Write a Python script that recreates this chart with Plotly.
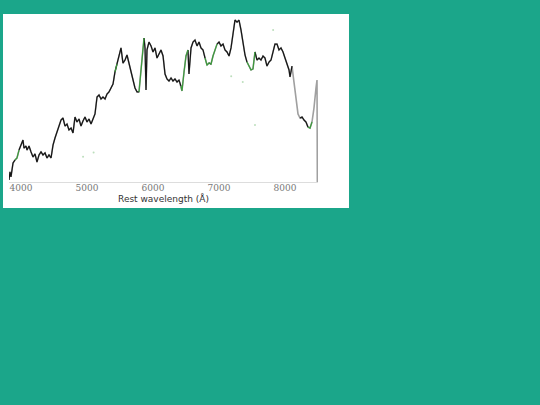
import plotly.graph_objects as go

# Rest wavelength (Angstrom) and normalised flux
wavelength = [3818, 3833, 3848, 3864, 3879, 3909, 3939, 3970, 4000, 4030,
              4045, 4076, 4091, 4121, 4152, 4182, 4212, 4242, 4273, 4303,
              4333, 4364, 4394, 4424, 4455, 4485, 4515, 4545, 4576, 4606,
              4636, 4667, 4697, 4727, 4758, 4788, 4818, 4848, 4879, 4909,
              4939, 4970, 5000, 5030, 5061, 5091, 5121, 5152, 5182, 5212,
              5242, 5273, 5303, 5333, 5364, 5394, 5424, 5455, 5485, 5515,
              5545, 5576, 5606, 5636, 5667, 5697, 5727, 5758, 5788, 5818,
              5848, 5864, 5879, 5894, 5909, 5939, 5970, 6000, 6030, 6061,
              6091, 6121, 6152, 6182, 6212, 6242, 6273, 6303, 6333, 6364,
              6394, 6424, 6439, 6470, 6500, 6530, 6545, 6576, 6606, 6636,
              6667, 6697, 6727, 6758, 6788, 6818, 6848, 6879, 6909, 6939,
              6970, 7000, 7030, 7061, 7091, 7121, 7152, 7182, 7212, 7242,
              7273, 7303, 7333, 7364, 7394, 7424, 7455, 7485, 7515, 7545,
              7576, 7606, 7636, 7667, 7697, 7727, 7758, 7788, 7818, 7848,
              7879, 7909, 7939, 7970, 8000, 8030, 8061, 8076, 8106, 8136,
              8167, 8197, 8227, 8258, 8288, 8318, 8348, 8379, 8409, 8439,
              8470, 8485, 8490]
flux = [0.012, 0.060, 0.030, 0.083, 0.113, 0.131, 0.143, 0.190, 0.220, 0.250,
        0.202, 0.214, 0.190, 0.214, 0.179, 0.149, 0.167, 0.119, 0.161, 0.179,
        0.161, 0.173, 0.143, 0.161, 0.143, 0.220, 0.262, 0.298, 0.321, 0.369,
        0.381, 0.333, 0.345, 0.310, 0.321, 0.292, 0.387, 0.357, 0.375, 0.333,
        0.363, 0.387, 0.357, 0.375, 0.345, 0.381, 0.405, 0.506, 0.518, 0.494,
        0.506, 0.494, 0.524, 0.536, 0.560, 0.583, 0.655, 0.702, 0.756, 0.798,
        0.708, 0.726, 0.756, 0.708, 0.655, 0.607, 0.560, 0.536, 0.536, 0.667,
        0.810, 0.857, 0.798, 0.548, 0.786, 0.833, 0.810, 0.774, 0.798, 0.738,
        0.762, 0.786, 0.750, 0.643, 0.613, 0.601, 0.619, 0.601, 0.613, 0.595,
        0.607, 0.571, 0.542, 0.655, 0.750, 0.786, 0.643, 0.798, 0.833, 0.845,
        0.810, 0.833, 0.798, 0.786, 0.738, 0.696, 0.708, 0.702, 0.750, 0.780,
        0.821, 0.833, 0.810, 0.821, 0.786, 0.774, 0.750, 0.798, 0.881, 0.964,
        0.952, 0.964, 0.905, 0.833, 0.756, 0.714, 0.685, 0.667, 0.673, 0.774,
        0.726, 0.738, 0.726, 0.750, 0.738, 0.690, 0.714, 0.726, 0.774, 0.821,
        0.821, 0.786, 0.798, 0.774, 0.738, 0.702, 0.667, 0.625, 0.690, 0.595,
        0.488, 0.405, 0.381, 0.387, 0.369, 0.357, 0.327, 0.321, 0.357, 0.440,
        0.560, 0.607, 0.000]
# k = observed (black), g = flagged (green), n = model only (grey)
point_class = list(
    "kkkkkggkkk" "kkkkkkkkkk" "kkkkkkkkkk" "kkkkkkkkkk" "kkkkkkkkkk"
    "kkkkkkgkkk" "kkkkkkkkgg" "gkknkkkkkk" "kkkkkkkkkk" "kggggknkkk"
    "kkkkggkggg" "kkkkkkkkkk" "kkkkkggggk" "kkkkkkkkkk" "kkkkkkkknn"
    "nnkkkkggnn" "nnn")

residual_wl = [4940, 5100, 7185, 7360, 7545, 7820]
residual_fx = [0.150, 0.175, 0.630, 0.595, 0.340, 0.905]

fig = go.Figure()

# grey model line underneath
fig.add_trace(go.Scatter(x=wavelength, y=flux, mode="lines",
                         line=dict(color="#a0a0a0", width=1.6),
                         hoverinfo="skip", showlegend=False))


def segment(cls):
    ys = []
    for i, f in enumerate(flux):
        prev_c = point_class[i - 1] if i > 0 else None
        ys.append(f if (point_class[i] == cls or prev_c == cls) else None)
    return ys


fig.add_trace(go.Scatter(x=wavelength, y=segment("k"), mode="lines",
                         line=dict(color="#151515", width=1.2),
                         connectgaps=False, showlegend=False))
fig.add_trace(go.Scatter(x=wavelength, y=segment("g"), mode="lines",
                         line=dict(color="#3a9a3a", width=1.2),
                         connectgaps=False, showlegend=False))
fig.add_trace(go.Scatter(x=residual_wl, y=residual_fx, mode="markers",
                         marker=dict(color="#9fd09f", size=2, opacity=0.7),
                         showlegend=False))

fig.add_shape(type="rect", xref="paper", yref="paper",
              x0=-0.0194, x1=1.1003, y0=-0.1548, y1=1.0,
              fillcolor="white", line=dict(width=0), layer="below")

fig.update_layout(
    width=540, height=405,
    margin=dict(l=9, r=222, t=14, b=223),
    paper_bgcolor="#1ba68a",
    plot_bgcolor="white",
    xaxis=dict(range=[3818, 8500], tickvals=[4000, 5000, 6000, 7000, 8000],
               ticks="", showgrid=False, zeroline=False, ticklabelstandoff=-3,
               showline=True, linecolor="#dddddd", linewidth=1,
               tickfont=dict(family="DejaVu Serif", size=9, color="#777777"),
               title=dict(text="Rest wavelength (Å)", standoff=0,
                          font=dict(family="DejaVu Sans", size=9, color="#333333"))),
    yaxis=dict(range=[0, 1], showticklabels=False, showgrid=False,
               zeroline=False, showline=False, ticks=""),
)

fig.write_html("out.html",
               config={"displayModeBar": False},
               post_script="document.body.style.margin='0';"
                           "document.body.style.background='#1ba68a';")
